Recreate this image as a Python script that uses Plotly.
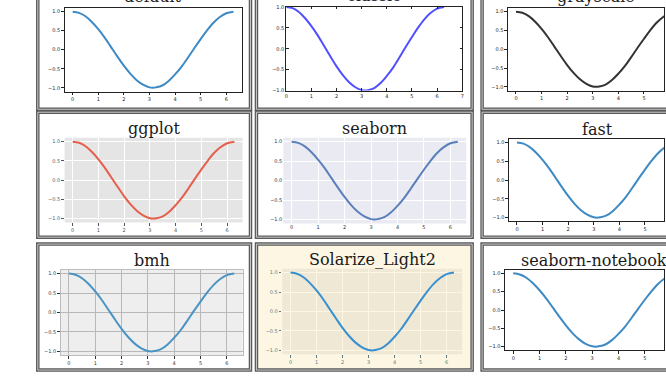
import plotly.graph_objects as go

W, H = 666, 376

# ---- data (same curve in every panel) ----
x_vals = [0.0, 0.25, 0.5, 0.75, 1.0, 1.25, 1.5, 1.75, 2.0, 2.25, 2.5, 2.75, 3.0, 3.14,
          3.25, 3.5, 3.75, 4.0, 4.25, 4.5, 4.75, 5.0, 5.25, 5.5, 5.75, 6.0, 6.28]
y_vals = [1.0, 0.97, 0.88, 0.73, 0.54, 0.32, 0.07, -0.18, -0.42, -0.63, -0.80, -0.92, -0.99, -1.0,
          -0.99, -0.94, -0.82, -0.65, -0.45, -0.21, 0.04, 0.28, 0.51, 0.71, 0.86, 0.96, 1.0]

titles = ["default", "classic", "grayscale", "ggplot", "seaborn", "fast",
          "bmh", "Solarize_Light2", "seaborn-notebook"]

x_ticks = [0, 1, 2, 3, 4, 5, 6]
x_ticks_classic = [0, 1, 2, 3, 4, 5, 6, 7]
y_ticks = [1.0, 0.5, 0.0, -0.5, -1.0]
y_tick_labels = ["1.0", "0.5", "0.0", "\u22120.5", "\u22121.0"]

# ---- layout (pixels) ----
col_box = [(36, 250), (256, 473), (483, 698)]
row_box = [(-20, 108), (111, 238), (245, 373)]
plot_x = [[(63, 241), (286, 463), (509, 687)],
          [(63, 242), (283, 467), (510, 688)],
          [(59, 242), (282, 463), (506, 689)]]
plot_y = [[(5, 90), (4, 89), (5, 89)],
          [(137, 223), (137, 224), (138, 222)],
          [(271, 358), (270, 357), (271, 353)]]
title_gap = [11.5, 9.5, 9.5]

styles = {
    "default":  dict(bg="white", line="#3d8ac4", spine="#222", grid=None, lab="#222", tickc="#222", ticks="outside"),
    "classic":  dict(bg="white", line="#5050ff", spine="#222", grid=None, lab="#222", tickc="#222", ticks="inside"),
    "grayscale": dict(bg="white", line="#333333", spine="#222", grid=None, lab="#222", tickc="#222", ticks="outside"),
    "ggplot":   dict(bg="#E5E5E5", line="#E5604c", spine=None, grid="white", lab="#555", tickc="#555", ticks="outside"),
    "seaborn":  dict(bg="#EAEAF2", line="#5a7fba", spine=None, grid="white", lab="#333", tickc=None, ticks=""),
    "fast":     dict(bg="white", line="#3d8ac4", spine="#222", grid=None, lab="#222", tickc="#222", ticks="outside"),
    "bmh":      dict(bg="#EEEEEE", line="#4a94c4", spine="#bcbcbc", grid="#b8b8b8", lab="#333", tickc="#333", ticks="outside"),
    "Solarize_Light2": dict(bg="#EEE8D5", line="#3990d0", spine=None, grid="#FDF6E3", lab="#657b83", tickc="#657b83", ticks="outside"),
    "seaborn-notebook": dict(bg="white", line="#3d8ac4", spine="#222", grid=None, lab="#222", tickc="#222", ticks="outside"),
}

def px2x(px):
    return px / W

def py2y(py):
    return 1 - py / H

fig = go.Figure()
shapes = []
annotations = []

for r in range(3):
    for c in range(3):
        i = r * 3 + c
        n = "" if i == 0 else str(i + 1)
        name = titles[i]
        st = styles[name]
        bx0, bx1 = col_box[c]
        by0, by1 = row_box[r]
        if name == "Solarize_Light2":
            shapes.append(dict(type="rect", xref="paper", yref="paper", layer="below",
                               x0=px2x(bx0), x1=px2x(bx1), y0=py2y(by1), y1=py2y(by0),
                               fillcolor="#FDF6E3", line=dict(width=0)))
        shapes.append(dict(type="rect", xref="paper", yref="paper", layer="above",
                           x0=px2x(bx0), x1=px2x(bx1), y0=py2y(by1), y1=py2y(by0),
                           line=dict(color="#5a5a5a", width=3.5)))
        shapes.append(dict(type="rect", xref="paper", yref="paper", layer="above",
                           x0=px2x(bx0), x1=px2x(bx1), y0=py2y(by1), y1=py2y(by0),
                           line=dict(color="#c8c8c8", width=1)))

        px0, px1 = plot_x[r][c]
        py0, py1 = plot_y[r][c]
        if name == "classic":
            xr = [0, 7]
            yr = [-1, 1]
            xt = x_ticks_classic
        else:
            xr = [-0.314, 6.597]
            yr = [-1.1, 1.1]
            xt = x_ticks
        vis1 = min(px1, W)
        xr_vis = [xr[0], xr[0] + (xr[1] - xr[0]) * (vis1 - px0) / (px1 - px0)]
        dom_x = [px2x(px0), px2x(vis1)]
        dom_y = [py2y(py1), py2y(py0)]

        shapes.append(dict(type="rect", xref=f"x{n} domain", yref=f"y{n} domain", layer="below",
                           x0=0, x1=1, y0=0, y1=1, fillcolor=st["bg"], line=dict(width=0)))

        fig.add_trace(go.Scatter(x=x_vals, y=y_vals, mode="lines", xaxis="x" + n, yaxis="y" + n,
                                 line=dict(color=st["line"], width=2, shape="spline"),
                                 showlegend=False, hoverinfo="skip"))

        tickfont = dict(family="DejaVu Sans", size=5, color=st["lab"])
        common = dict(showline=st["spine"] is not None, linecolor=st["spine"] or "white", linewidth=1,
                      mirror=("allticks" if name == "classic" else True) if st["spine"] else False,
                      ticks=st["ticks"], ticklen=2.5, tickwidth=0.8,
                      tickcolor=st["tickc"] or "white",
                      showgrid=st["grid"] is not None, gridcolor=st["grid"] or "white", gridwidth=1,
                      zeroline=False, fixedrange=True, tickfont=tickfont)
        fig.layout["xaxis" + n] = dict(domain=dom_x, range=xr_vis, anchor="y" + n,
                                       tickmode="array", tickvals=xt, ticktext=[str(v) for v in xt],
                                       **common)
        fig.layout["yaxis" + n] = dict(domain=dom_y, range=yr, anchor="x" + n,
                                       tickmode="array", tickvals=y_ticks, ticktext=y_tick_labels,
                                       **common)

        cx = (px0 + px1) / 2
        if name == "seaborn-notebook":
            cx = 596
        annotations.append(dict(xref="paper", yref="paper", x=px2x(cx),
                                y=py2y(py0 - title_gap[r]), xanchor="center", yanchor="middle",
                                text=name, showarrow=False,
                                font=dict(family="DejaVu Serif", size=16, color="#1a1a1a")))

fig.update_layout(width=W, height=H, margin=dict(l=0, r=0, t=0, b=0),
                  paper_bgcolor="white", plot_bgcolor="rgba(0,0,0,0)",
                  shapes=shapes, annotations=annotations, showlegend=False)

fig.write_html("out.html", config={"displayModeBar": False},
               post_script="document.body.style.margin='0';document.body.style.overflow='hidden';")
